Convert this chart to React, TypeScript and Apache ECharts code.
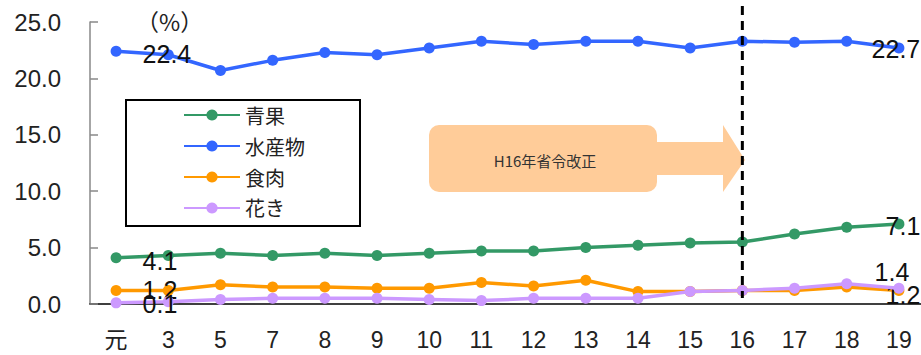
import React, { useEffect, useRef } from "react";
import * as echarts from "echarts";

const categories = ["元", "3", "5", "7", "8", "9", "10", "11", "12", "13", "14", "15", "16", "17", "18", "19"];
const seika = [4.1, 4.3, 4.5, 4.3, 4.5, 4.3, 4.5, 4.7, 4.7, 5.0, 5.2, 5.4, 5.5, 6.2, 6.8, 7.1];
const suisan = [22.4, 22.1, 20.7, 21.6, 22.3, 22.1, 22.7, 23.3, 23.0, 23.3, 23.3, 22.7, 23.3, 23.2, 23.3, 22.7];
const shokuniku = [1.2, 1.2, 1.7, 1.5, 1.5, 1.4, 1.4, 1.9, 1.6, 2.1, 1.1, 1.1, 1.2, 1.2, 1.5, 1.2];
const kaki = [0.1, 0.2, 0.4, 0.5, 0.5, 0.5, 0.4, 0.3, 0.5, 0.5, 0.5, 1.1, 1.2, 1.4, 1.8, 1.4];
const seriesNames = ["青果", "水産物", "食肉", "花き"];
const yTicks = [0, 5, 10, 15, 20, 25];
const markerCategory = "16";
const annotationText = "H16年省令改正";

const colors = ["#339966", "#3366FF", "#FF9900", "#CC99FF"];
const firstLabelOffset = [[0, 3], [0, 3], [0, 0], [0, 1]];
const lastLabelOffset = [[4, 2], [-3, 1], [4, 5], [-7, -16]];

function buildData(values: number[], idx: number) {
  const last = values.length - 1;
  return values.map((v, i) => {
    if (i === 0) {
      return {
        value: v,
        label: { show: true, position: "right", distance: 21, offset: firstLabelOffset[idx] },
      };
    }
    if (i === last) {
      return {
        value: v,
        label: { show: true, position: "inside", offset: lastLabelOffset[idx] },
      };
    }
    return { value: v };
  });
}

export default function App() {
  const ref = useRef<HTMLDivElement>(null);
  useEffect(() => {
    if (!ref.current) return;
    document.body.style.margin = "0";
    const chart = echarts.init(ref.current, null, { renderer: "svg" });
    const allValues = [seika, suisan, shokuniku, kaki];
    const option: any = {
      animation: false,
      backgroundColor: "#ffffff",
      grid: { left: 90, top: 22, width: 835, height: 282, containLabel: false, outerBoundsMode: "none" },
      legend: {
        orient: "vertical",
        left: 126,
        top: 100,
        width: 235,
        padding: [5, 55, 8, 57],
        borderColor: "#000",
        borderWidth: 2,
        itemWidth: 56,
        itemHeight: 14,
        itemGap: 11,
        data: seriesNames,
        textStyle: { fontSize: 20, color: "#222", fontFamily: "Noto Sans CJK JP" },
      },
      xAxis: {
        type: "category",
        data: categories,
        axisLine: { lineStyle: { color: "#000", width: 1.5 } },
        axisTick: { show: false },
        axisLabel: {
          fontSize: 23,
          color: "#222",
          margin: 24,
          fontFamily: "Liberation Sans, Noto Sans CJK JP",
          interval: 0,
        },
      },
      yAxis: {
        type: "value",
        min: yTicks[0],
        max: yTicks[yTicks.length - 1],
        interval: 5,
        splitLine: { show: false },
        axisLine: { show: true, lineStyle: { color: "#888", width: 1.5 } },
        axisTick: { show: true, inside: true, length: 8, lineStyle: { color: "#888", width: 1.5 } },
        axisLabel: {
          fontSize: 24,
          color: "#222",
          margin: 29,
          fontFamily: "Liberation Sans",
          formatter: (v: number) => v.toFixed(1),
        },
      },
      series: seriesNames.map((name, idx) => ({
        name,
        type: "line",
        data: buildData(allValues[idx], idx),
        symbol: "circle",
        symbolSize: 11,
        color: colors[idx],
        lineStyle: { width: 3.5, color: colors[idx] },
        itemStyle: { color: colors[idx] },
        label: {
          show: false,
          color: "#111",
          fontSize: 25,
          fontFamily: "Liberation Sans",
          formatter: (p: any) => Number(p.value).toFixed(1),
        },
        z: 2 + idx,
      })),
    };
    chart.setOption(option);

    const xPix = chart.convertToPixel({ xAxisIndex: 0 }, markerCategory) as number;
    chart.setOption({
      graphic: [
        {
          type: "text",
          left: 136,
          top: 9,
          style: { text: "（%）", fontSize: 23, fill: "#222", fontFamily: "Noto Sans CJK JP" },
        },
        {
          type: "rect",
          shape: { x: 429, y: 125, width: 228, height: 67, r: 10 },
          style: { fill: "#FFCC99" },
        },
        {
          type: "polygon",
          shape: {
            points: [
              [656, 142], [723, 142], [723, 125], [745, 160], [723, 192], [723, 175], [656, 175],
            ],
          },
          style: { fill: "#FFCC99" },
        },
        {
          type: "text",
          x: 545,
          y: 160,
          style: {
            text: annotationText,
            fontSize: 15,
            fill: "#333",
            align: "center",
            verticalAlign: "middle",
            fontFamily: "Noto Sans CJK JP",
          },
        },
        {
          type: "line",
          shape: { x1: xPix, y1: 6, x2: xPix, y2: 298 },
          style: { stroke: "#000", lineWidth: 3, lineDash: [9, 6] },
          z: 10,
        },
      ],
    });
    return () => chart.dispose();
  }, []);
  return <div ref={ref} style={{ width: 921, height: 355 }} />;
}
